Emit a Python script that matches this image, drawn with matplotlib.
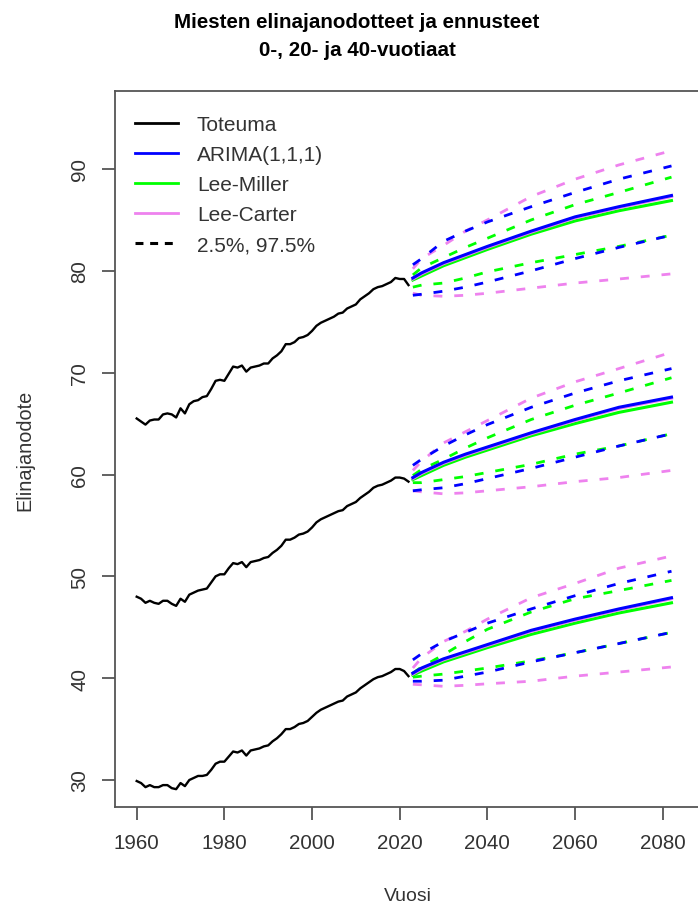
import numpy as np
import matplotlib
matplotlib.use("Agg")
import matplotlib.pyplot as plt
from matplotlib import font_manager
from matplotlib.lines import Line2D

# historical life expectancy of men, ages 0, 20 and 40
years_hist = np.arange(1960, 2023)
e0_hist = [65.5, 65.2, 64.9, 65.3, 65.4, 65.4, 65.9, 66.0, 65.9, 65.6,
           66.5, 66.0, 66.9, 67.2, 67.3, 67.6, 67.7, 68.4, 69.2, 69.3,
           69.2, 69.9, 70.6, 70.5, 70.7, 70.1, 70.5, 70.6, 70.7, 70.9,
           70.9, 71.4, 71.7, 72.1, 72.8, 72.8, 73.0, 73.4, 73.5, 73.7,
           74.1, 74.6, 74.9, 75.1, 75.3, 75.5, 75.8, 75.9, 76.3, 76.5,
           76.7, 77.2, 77.5, 77.8, 78.2, 78.4, 78.5, 78.7, 78.9, 79.3,
           79.2, 79.2, 78.6]
e20_hist = [48.0, 47.8, 47.4, 47.6, 47.4, 47.3, 47.6, 47.6, 47.3, 47.1,
            47.8, 47.5, 48.2, 48.4, 48.6, 48.7, 48.8, 49.4, 50.0, 50.2,
            50.2, 50.8, 51.3, 51.2, 51.4, 50.9, 51.4, 51.5, 51.6, 51.8,
            51.9, 52.3, 52.6, 53.0, 53.6, 53.6, 53.8, 54.1, 54.2, 54.4,
            54.8, 55.3, 55.6, 55.8, 56.0, 56.2, 56.4, 56.5, 56.9, 57.1,
            57.3, 57.7, 58.0, 58.3, 58.7, 58.9, 59.0, 59.2, 59.4, 59.7,
            59.7, 59.6, 59.3]
e40_hist = [29.9, 29.7, 29.3, 29.5, 29.3, 29.3, 29.5, 29.5, 29.2, 29.1,
            29.7, 29.4, 30.0, 30.2, 30.4, 30.4, 30.5, 31.0, 31.6, 31.8,
            31.8, 32.3, 32.8, 32.7, 32.9, 32.4, 32.9, 33.0, 33.1, 33.3,
            33.4, 33.8, 34.1, 34.5, 35.0, 35.0, 35.2, 35.5, 35.6, 35.8,
            36.2, 36.6, 36.9, 37.1, 37.3, 37.5, 37.7, 37.8, 38.2, 38.4,
            38.6, 39.0, 39.3, 39.6, 39.9, 40.1, 40.2, 40.4, 40.6, 40.9,
            40.9, 40.7, 40.2]

# forecasts, one row per age (0, 20, 40)
fc_years = [2023, 2025, 2030, 2035, 2040, 2050, 2060, 2070, 2082]

arima_mean = [[79.3, 79.8, 80.8, 81.6, 82.4, 83.9, 85.3, 86.3, 87.4],
              [59.7, 60.2, 61.2, 62.0, 62.7, 64.1, 65.4, 66.6, 67.6],
              [40.5, 41.0, 41.9, 42.6, 43.3, 44.7, 45.8, 46.8, 47.9]]
arima_lo = [[77.6, 77.7, 78.0, 78.4, 78.9, 80.0, 81.2, 82.3, 83.5],
            [58.4, 58.5, 58.7, 59.1, 59.6, 60.6, 61.7, 62.8, 64.0],
            [39.7, 39.7, 39.8, 40.2, 40.6, 41.6, 42.5, 43.4, 44.5]]
arima_hi = [[80.6, 81.2, 82.9, 83.9, 84.8, 86.3, 87.7, 89.0, 90.3],
            [60.9, 61.5, 62.8, 63.9, 64.9, 66.6, 68.0, 69.2, 70.4],
            [41.8, 42.4, 43.6, 44.5, 45.4, 46.8, 48.1, 49.3, 50.5]]

lm_mean = [[79.1, 79.5, 80.5, 81.3, 82.1, 83.6, 84.9, 85.9, 86.9],
           [59.5, 59.9, 60.9, 61.7, 62.4, 63.8, 65.0, 66.1, 67.1],
           [40.3, 40.7, 41.6, 42.3, 43.0, 44.3, 45.4, 46.4, 47.4]]
lm_lo = [[78.4, 78.6, 78.8, 79.3, 79.9, 80.8, 81.6, 82.4, 83.5],
         [59.2, 59.2, 59.5, 59.8, 60.2, 61.0, 62.0, 62.8, 64.0],
         [40.1, 40.2, 40.4, 40.7, 41.0, 41.7, 42.5, 43.4, 44.5]]
lm_hi = [[79.6, 80.3, 81.3, 82.3, 83.2, 85.0, 86.5, 87.7, 89.2],
         [59.9, 60.5, 61.5, 62.6, 63.6, 65.4, 66.8, 68.0, 69.5],
         [40.5, 41.1, 42.3, 43.6, 44.8, 46.5, 47.8, 48.6, 49.6]]

lc_mean = [[79.2, 79.7, 80.7, 81.5, 82.3, 83.8, 85.2, 86.2, 87.3],
           [59.6, 60.1, 61.1, 61.9, 62.6, 64.0, 65.3, 66.5, 67.5],
           [40.4, 40.9, 41.8, 42.5, 43.2, 44.6, 45.7, 46.7, 47.8]]
lc_lo = [[77.8, 77.6, 77.5, 77.6, 77.8, 78.3, 78.8, 79.2, 79.7],
         [58.4, 58.3, 58.1, 58.2, 58.4, 58.8, 59.3, 59.7, 60.4],
         [39.4, 39.35, 39.2, 39.3, 39.45, 39.7, 40.2, 40.6, 41.1]]
lc_hi = [[80.2, 81.2, 82.5, 83.9, 85.0, 87.3, 89.0, 90.4, 91.8],
         [60.4, 61.3, 63.1, 64.2, 65.3, 67.5, 69.1, 70.4, 72.0],
         [41.0, 42.0, 43.6, 44.6, 45.8, 47.9, 49.3, 50.8, 52.0]]

x_ticks = [1960, 1980, 2000, 2020, 2040, 2060, 2080]
y_ticks = [30, 40, 50, 60, 70, 80, 90]


def have_font(name):
    try:
        font_manager.findfont(font_manager.FontProperties(family=name),
                              fallback_to_default=False)
        return True
    except ValueError:
        return False


if have_font('Liberation Sans Narrow'):
    fam = ['Liberation Sans Narrow', 'DejaVu Sans']
    k = 1.0
else:
    fam = ['Liberation Sans', 'DejaVu Sans']
    k = 0.82
plt.rcParams['font.family'] = fam

W, H = 698, 912
fig = plt.figure(figsize=(W / 100, H / 100), dpi=100)
ax = fig.add_axes([115 / W, 1 - 808.3 / H, 592 / W, 716 / H])

BLUE, GREEN, VIOLET = '#0000FF', '#00FF00', '#EE82EE'
dash = (3.2, 4.3)

for hist in (e0_hist, e20_hist, e40_hist):
    ax.plot(years_hist, hist, color='black', lw=1.7, zorder=5)

models = [(lm_mean, lm_lo, lm_hi, GREEN),
          (lc_mean, lc_lo, lc_hi, VIOLET),
          (arima_mean, arima_lo, arima_hi, BLUE)]
for mean, lo, hi, col in models:
    for i in range(3):
        ax.plot(fc_years, lo[i], color=col, lw=2, dashes=dash)
        ax.plot(fc_years, hi[i], color=col, lw=2, dashes=dash)
for mean, lo, hi, col in models:
    for i in range(3):
        ax.plot(fc_years, mean[i], color=col, lw=2.2)

ax.set_xlim(1955.05, 2090.1)
ax.set_ylim(27.32, 97.63)
ax.set_xticks(x_ticks)
ax.set_yticks(y_ticks)
for s in ax.spines.values():
    s.set_color('#555555')
    s.set_linewidth(1.3)
ax.tick_params(colors='#555555', labelcolor='#333333', length=9.4, width=1.3,
               labelsize=18 * k)
ax.tick_params(axis='x', pad=9)
ax.tick_params(axis='y', pad=9)
for t in ax.get_yticklabels():
    t.set_rotation(90)
    t.set_va('center')

handles = [Line2D([], [], color='black', lw=2),
           Line2D([], [], color=BLUE, lw=2),
           Line2D([], [], color=GREEN, lw=2),
           Line2D([], [], color=VIOLET, lw=2),
           Line2D([], [], color='black', lw=2.2, dashes=(2.6, 2.2))]
labels = ['Toteuma', 'ARIMA(1,1,1)', 'Lee-Miller', 'Lee-Carter', '2.5%, 97.5%']
leg = ax.legend(handles, labels, loc='upper left', frameon=False,
                bbox_to_anchor=(135 / W, 1 - 116 / H), bbox_transform=fig.transFigure,
                fontsize=18.3 * k, handlelength=2.07, handletextpad=0.9,
                labelspacing=0.53, borderaxespad=0, borderpad=0)
for t in leg.get_texts():
    t.set_color('#333333')

fig.text(357 / W, 1 - 22 / H, 'Miesten elinajanodotteet ja ennusteet',
         ha='center', va='center', fontsize=18 * k, fontweight='bold')
fig.text(357 / W, 1 - 51 / H, '0-, 20- ja 40-vuotiaat',
         ha='center', va='center', fontsize=18 * k, fontweight='bold')
fig.text(408 / W, 1 - 897 / H, 'Vuosi', ha='center', va='center',
         fontsize=17 * k, color='#333333')
fig.text(25 / W, 1 - 450 / H, 'Elinajanodote', ha='center', va='center',
         rotation=90, fontsize=17.5 * k, color='#333333')

fig.savefig('out.png', dpi=100)
